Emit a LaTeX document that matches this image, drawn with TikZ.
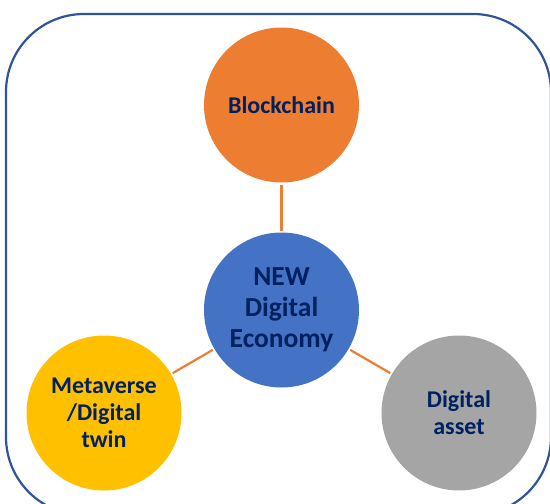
\documentclass[tikz,border=0pt]{standalone}
\usepackage{fontspec}
\setmainfont{Carlito}
\usetikzlibrary{positioning}

\definecolor{frameblue}{RGB}{47,85,151}
\definecolor{txtnavy}{RGB}{0,32,96}
\definecolor{ecoorange}{RGB}{237,125,49}
\definecolor{ecoblue}{RGB}{68,114,196}
\definecolor{ecoyellow}{RGB}{255,192,0}
\definecolor{ecogray}{RGB}{165,165,165}

\begin{document}
\begin{tikzpicture}[x=1pt,y=-1pt]
\tikzset{
  topic/.style={circle,minimum size=155pt,inner sep=0pt,outer sep=2pt,align=center,
    text=txtnavy,font=\fontsize{24}{27}\selectfont\bfseries},
  coretopic/.style={topic,font=\fontsize{27.5}{31}\selectfont\bfseries},
  link/.style={ecoorange,line width=2.2pt}
}
\useasboundingbox (0,0) rectangle (550,504);
\clip (0,0) rectangle (550,504);
\draw[frameblue,line width=2.2pt,rounded corners=78pt] (6,14) rectangle (551,515);
\node[coretopic,fill=ecoblue] (n_core) at (281.5,310) {NEW\\Digital\\Economy};
\node[topic,fill=ecoorange] (n_chain) at (281.5,105) {Blockchain};
\node[topic,fill=ecoyellow] (n_meta) at (104,413) {Metaverse\\/Digital\\twin};
\node[topic,fill=ecogray] (n_asset) at (459,413) {Digital\\asset};
\draw[link] (n_chain) -- (n_core);
\draw[link] (n_core) -- (n_meta);
\draw[link] (n_core) -- (n_asset);
\end{tikzpicture}
\end{document}
